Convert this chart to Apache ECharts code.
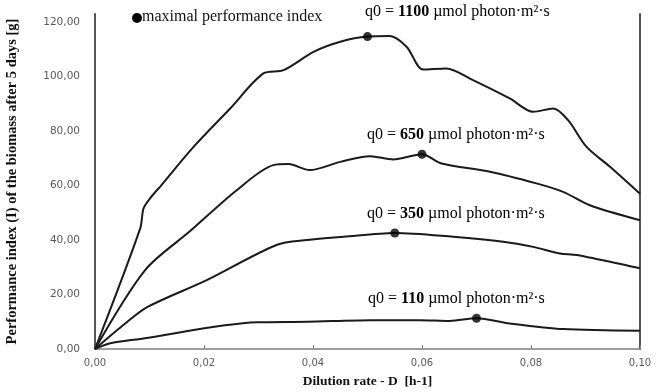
<!DOCTYPE html>
<html>
<head>
<meta charset="utf-8">
<script src="https://cdn.jsdelivr.net/npm/echarts@6/dist/echarts.min.js"></script>
<style>html,body{margin:0;padding:0;background:#fff}#c{width:666px;height:392px}</style>
</head>
<body>
<div id="c"></div>
<script>
// Dilution rate D [h-1] and performance index I [g] for each light intensity q0
const d1100 = [0, 0.0083, 0.0089, 0.0101, 0.0122, 0.018, 0.0248, 0.0309, 0.0346, 0.0401, 0.045, 0.05, 0.0541, 0.0572, 0.0602, 0.0645, 0.0688, 0.0761, 0.0804, 0.0841, 0.0868, 0.0902, 0.0945, 0.1];
const v1100 = [0, 44.3, 51.6, 55.3, 60.2, 74, 88.3, 101.2, 102.4, 109.1, 112.8, 114.7, 114.9, 110.9, 102.6, 103, 99.3, 92, 87.1, 88.3, 84, 74.2, 66.9, 57];
const d650 = [0, 0.0092, 0.0174, 0.026, 0.0327, 0.0355, 0.0394, 0.045, 0.0505, 0.0547, 0.06, 0.0636, 0.0725, 0.081, 0.0859, 0.0908, 0.1];
const v650 = [0, 29, 43.2, 58.3, 67.5, 67.9, 65.7, 68.7, 70.8, 69.6, 71.5, 68.1, 65.1, 60.8, 57.7, 52.8, 47.3];
const d350 = [0, 0.0052, 0.0095, 0.0205, 0.0333, 0.0389, 0.0456, 0.055, 0.0657, 0.0749, 0.0804, 0.0853, 0.0884, 0.1];
const v350 = [0, 8.8, 15.3, 25.3, 38.2, 40, 41.2, 42.6, 41.2, 39.4, 37.5, 35.1, 34.5, 29.6];
const d110 = [0, 0.0028, 0.0083, 0.0297, 0.0389, 0.0505, 0.0596, 0.0651, 0.07, 0.0761, 0.0859, 0.1];
const v110 = [0, 2.1, 3.7, 9.8, 10, 10.6, 10.6, 10.3, 11.3, 9.4, 7.3, 6.7];
// maximal performance index points
const peakD = [0.05, 0.06, 0.055, 0.07];
const peakV = [114.7, 71.5, 42.6, 11.3];
// labels
const q0Values = ['1100', '650', '350', '110'];
const xTitle = 'Dilution rate - D  [h-1]';
const yTitle = 'Performance index (I) of the biomass after 5 days [g]';
const legendText = 'maximal performance index';

const pairs = (xs, ys) => xs.map((x, i) => [x, ys[i]]);
const fmt = v => v.toFixed(2).replace('.', ',');

const lineStyle = { color: '#1a1a1a', width: 2 };
function lineSeries(xs, ys) {
  return {
    type: 'line', data: pairs(xs, ys), smooth: 0.3,
    showSymbol: false, lineStyle: lineStyle, silent: true, z: 2
  };
}

const annPos = [[365, 4], [367, 127], [367, 206], [368, 291]];
const rich = {
  n: { fontFamily: 'Liberation Serif', fontSize: 16, color: '#111' },
  b: { fontFamily: 'Liberation Serif', fontSize: 16, fontWeight: 'bold', color: '#111' }
};
const annotations = q0Values.map((q, i) => ({
  type: 'text', left: annPos[i][0], top: annPos[i][1],
  style: { text: '{n|q0 = }{b|' + q + '}{n| µmol photon·m²·s}', rich: rich }
}));

const chart = echarts.init(document.getElementById('c'), null, { renderer: 'canvas' });
chart.setOption({
  animation: false,
  backgroundColor: '#fff',
  grid: { left: 95, right: 26, top: 14, bottom: 43, outerBoundsMode: 'none', containLabel: false },
  xAxis: {
    type: 'value', min: 0, max: 0.1, interval: 0.02,
    name: xTitle, nameLocation: 'middle', nameGap: 26,
    nameTextStyle: { fontFamily: 'Liberation Serif', fontWeight: 'bold', fontSize: 13.5, color: '#111' },
    axisLine: { show: true, lineStyle: { color: '#7f7f7f', width: 1.5 } },
    axisTick: { show: true, inside: true, length: 4, lineStyle: { color: '#7f7f7f' } },
    axisLabel: { formatter: fmt, fontFamily: 'DejaVu Sans', fontSize: 10, color: '#595959', margin: 9 },
    splitLine: { show: false }
  },
  yAxis: [{
    type: 'value', min: 0, max: 123, interval: 20,
    name: yTitle, nameLocation: 'middle', nameGap: 75, nameRotate: 90,
    nameTextStyle: { fontFamily: 'Liberation Serif', fontWeight: 'bold', fontSize: 14.5, color: '#111' },
    axisLine: { show: true, lineStyle: { color: '#555', width: 2 } },
    axisTick: { show: false },
    axisLabel: { formatter: v => (Math.abs(v % 20) < 1e-9 ? fmt(v) : ''), fontFamily: 'DejaVu Sans', fontSize: 10.5, color: '#595959', margin: 15 },
    splitLine: { show: false }
  }, {
    type: 'value', min: 0, max: 123, position: 'right',
    axisLine: { show: true, lineStyle: { color: '#555', width: 2 } },
    axisTick: { show: false }, axisLabel: { show: false }, splitLine: { show: false }
  }],
  series: [
    lineSeries(d1100, v1100),
    lineSeries(d650, v650),
    lineSeries(d350, v350),
    lineSeries(d110, v110),
    { type: 'scatter', data: pairs(peakD, peakV), symbol: 'circle', symbolSize: 9,
      itemStyle: { color: '#000' }, silent: true, z: 5 }
  ],
  graphic: [
    { type: 'circle', shape: { cx: 137, cy: 18, r: 5 }, style: { fill: '#000' } },
    { type: 'text', left: 142, top: 9,
      style: { text: legendText, fontFamily: 'Liberation Serif', fontSize: 16, fill: '#111' } }
  ].concat(annotations)
});
</script>
</body>
</html>
